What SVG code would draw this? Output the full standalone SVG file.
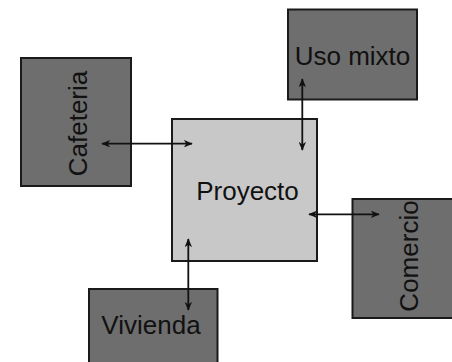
<svg xmlns="http://www.w3.org/2000/svg" width="452" height="362" viewBox="0 0 452 362">
<style>
.dark{fill:#6e6e6e;stroke:#1a1a1a;stroke-width:2}
.light{fill:#c8c8c8;stroke:#1a1a1a;stroke-width:2}
.lbl{font-family:"Liberation Sans",Arial,sans-serif;font-size:26px;fill:#111;text-anchor:middle}
.arr{stroke:#111;stroke-width:1.8;fill:none;marker-start:url(#ah);marker-end:url(#ah)}
</style>
<defs>
<marker id="ah" viewBox="0 0 12 10" refX="11" refY="5" markerWidth="9" markerHeight="7.5" markerUnits="userSpaceOnUse" orient="auto-start-reverse">
<path d="M0,0 L12,5 L0,10 L3.5,5 z" fill="#111"/>
</marker>
</defs>
<rect width="452" height="362" fill="#fff"/>
<g id="cafeteria"><rect class="dark" x="21" y="58" width="110" height="128"/><text class="lbl" transform="translate(86.5,123.5) rotate(-90)">Cafeteria</text></g>
<g id="uso-mixto"><rect class="dark" x="288" y="9.5" width="129" height="90"/><text class="lbl" x="352.5" y="65">Uso mixto</text></g>
<g id="proyecto"><rect class="light" x="172" y="119" width="145" height="142"/><text class="lbl" x="247.5" y="200">Proyecto</text></g>
<g id="comercio"><rect class="dark" x="352.5" y="199" width="104" height="119"/><text class="lbl" transform="translate(417.5,256) rotate(-90)">Comercio</text></g>
<g id="vivienda"><rect class="dark" x="89" y="289" width="128.5" height="80"/><text class="lbl" x="151" y="334">Vivienda</text></g>
<g id="connectors">
<line class="arr" x1="102" y1="143.7" x2="192" y2="143.7"/>
<line class="arr" x1="302.3" y1="79" x2="302.3" y2="150"/>
<line class="arr" x1="309" y1="214.3" x2="379" y2="214.3"/>
<line class="arr" x1="188.3" y1="239" x2="188.3" y2="310"/>
</g>
</svg>
